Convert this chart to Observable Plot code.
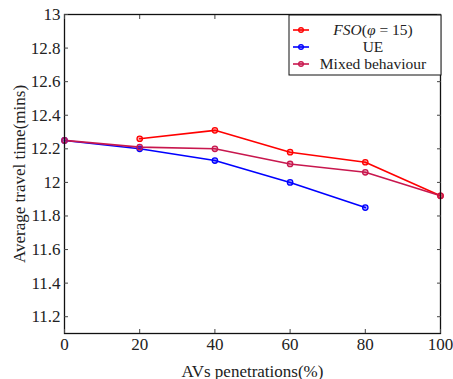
<!DOCTYPE html>
<html>
<head>
<meta charset="utf-8">
<script src="https://cdn.jsdelivr.net/npm/d3@7"></script>
<script src="https://cdn.jsdelivr.net/npm/@observablehq/plot@0.6"></script>
<style>
  html, body { margin: 0; padding: 0; background: #fff; }
  svg { display: block; }
</style>
</head>
<body>
<div id="chart"></div>
<script>
const penetration = [0, 20, 40, 60, 80, 100];
const fsoX = [20, 40, 60, 80, 100];
const fsoY = [12.26, 12.31, 12.18, 12.12, 11.92];
const ueX = [0, 20, 40, 60, 80];
const ueY = [12.25, 12.20, 12.13, 12.00, 11.85];
const mixedX = [0, 20, 40, 60, 80, 100];
const mixedY = [12.25, 12.21, 12.20, 12.11, 12.06, 11.92];
const yTicks = [11.2, 11.4, 11.6, 11.8, 12, 12.2, 12.4, 12.6, 12.8, 13];
const seriesNames = ["FSO", "UE", "Mixed behaviour"];
const colors = ["#ff0000", "#0000ff", "#c8174e"];

const toRows = (xs, ys, s) => xs.map((x, i) => ({x, y: ys[i], s}));
const data = [
  ...toRows(fsoX, fsoY, seriesNames[0]),
  ...toRows(ueX, ueY, seriesNames[1]),
  ...toRows(mixedX, mixedY, seriesNames[2])
];

const font = "Liberation Serif";
const W = 453, H = 379;
const mL = 64, mR = 13, mT = 14, mB = 46;

const chart = Plot.plot({
  width: W,
  height: H,
  marginLeft: mL,
  marginRight: mR,
  marginTop: mT,
  marginBottom: mB,
  style: {fontSize: "17px", color: "#222", background: "#fff"},
  x: {domain: [0, 100]},
  y: {domain: [11.1, 13]},
  color: {domain: seriesNames, range: colors},
  marks: [
    Plot.line(data, {x: "x", y: "y", z: "s", stroke: "s", strokeWidth: 1.6}),
    Plot.dot(data, {x: "x", y: "y", stroke: "s", fill: "s", fillOpacity: 0.35, r: 2.7, strokeWidth: 1.3}),
    Plot.frame({stroke: "#111", strokeWidth: 1.3}),
    Plot.axisX({anchor: "bottom", ticks: penetration, tickSize: -4, tickPadding: 8, tickFormat: d => String(d), label: "AVs penetrations(%)", labelAnchor: "center", labelOffset: 43, labelArrow: "none", fontSize: 17, stroke: "#444"}),
    Plot.axisX({anchor: "top", ticks: penetration, tickSize: -4, tickFormat: () => "", label: null, stroke: "#444"}),
    Plot.axisY({anchor: "left", ticks: yTicks, tickSize: -4, tickPadding: 8, tickFormat: d => String(d), label: "Average travel time(mins)", labelAnchor: "center", labelOffset: 52, labelArrow: "none", fontSize: 17, stroke: "#444"}),
    Plot.axisY({anchor: "right", ticks: yTicks, tickSize: -4, tickFormat: () => "", label: null, stroke: "#444"})
  ]
});

document.getElementById("chart").appendChild(chart);

// Legend box in upper-right of the plot frame
const svg = d3.select(chart);
const lg = svg.append("g").attr("font-size", 15.5).attr("fill", "#222");
const bx = 289, by = 15, bw = W - mR - bx + 1, bh = 60;
lg.append("rect").attr("x", bx).attr("y", by).attr("width", bw).attr("height", bh)
  .attr("fill", "#fff").attr("stroke", "#111").attr("stroke-width", 1);
const rowsY = [30, 47, 64];
seriesNames.forEach((name, i) => {
  const y = rowsY[i];
  lg.append("line").attr("x1", 293).attr("x2", 309).attr("y1", y).attr("y2", y)
    .attr("stroke", colors[i]).attr("stroke-width", 1.6);
  lg.append("circle").attr("cx", 301).attr("cy", y).attr("r", 2.4)
    .attr("fill", colors[i]).attr("fill-opacity", 0.35).attr("stroke", colors[i]).attr("stroke-width", 1.2);
  const t = lg.append("text").attr("x", 373).attr("y", y).attr("dy", "0.35em").attr("text-anchor", "middle");
  if (i === 0) {
    t.append("tspan").attr("font-style", "italic").text("FSO");
    t.append("tspan").text("(");
    t.append("tspan").attr("font-style", "italic").text("φ");
    t.append("tspan").text(" = 15)");
  } else {
    t.text(name);
  }
});

// Serif font on every text element
svg.style("font-family", font);
svg.selectAll("g").attr("font-family", null);
svg.selectAll("text").attr("font-family", null).style("font-family", font);
</script>
</body>
</html>
